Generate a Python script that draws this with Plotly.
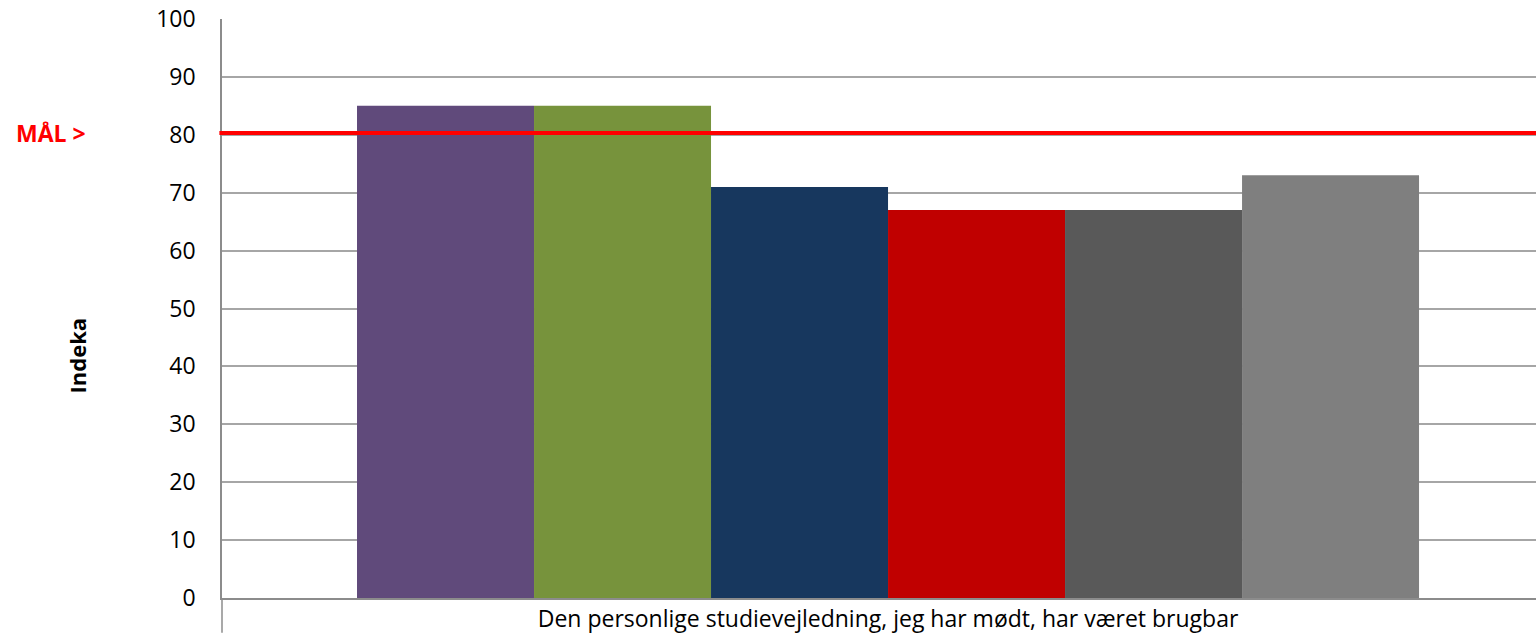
import plotly.graph_objects as go

category = ["Den personlige studievejledning, jeg har mødt, har været brugbar"]
series_names = ["Serie 1", "Serie 2", "Serie 3", "Serie 4", "Serie 5", "Serie 6"]
series_values = [85, 85, 71, 67, 67, 73]
series_colors = ["#604A7B", "#77933C", "#17375E", "#C00000", "#595959", "#7F7F7F"]
target_value = 80.3
target_label = "MÅL >"
y_title = "Indeka"
y_ticks = [0, 10, 20, 30, 40, 50, 60, 70, 80, 90, 100]

FONT = "Open Sans"

fig = go.Figure()
for name, val, col in zip(series_names, series_values, series_colors):
    fig.add_trace(go.Bar(
        x=category, y=[val], name=name,
        marker=dict(color=col, line=dict(width=0)),
        showlegend=False, hoverinfo="y+name",
    ))

fig.update_layout(
    width=1536, height=634,
    margin=dict(l=222, r=0, t=19, b=32, pad=0),
    paper_bgcolor="white", plot_bgcolor="white",
    barmode="group", bargap=0.2, bargroupgap=0,
    font=dict(family=FONT, color="black", size=22),
    xaxis=dict(
        type="category", range=[-0.5017, 0.4881],
        showline=True, linecolor="#8c8c8c", linewidth=1.5,
        showgrid=False, ticks="", zeroline=False,
        ticklabelstandoff=0,
        tickfont=dict(family=FONT, size=23, color="black"),
        fixedrange=True,
    ),
    yaxis=dict(
        range=[0, 100], tickvals=y_ticks,
        showline=True, linecolor="#8c8c8c", linewidth=1.5,
        showgrid=True, gridcolor="#a6a6a6", gridwidth=1.5,
        zeroline=False, ticks="",
        ticklabelstandoff=20,
        tickfont=dict(family=FONT, size=23, color="black"),
        fixedrange=True,
    ),
    shapes=[
        dict(type="line", xref="paper", yref="y", x0=-0.002, x1=1,
             y0=target_value, y1=target_value,
             line=dict(color="#FF0000", width=4), layer="above"),
        dict(type="line", xref="paper", yref="paper", x0=0, x1=0,
             y0=0, y1=-0.06, line=dict(color="#8c8c8c", width=1.5)),
    ],
    annotations=[
        dict(text="<b>" + target_label + "</b>", xref="paper", yref="y",
             x=-0.102, y=target_value, xanchor="right", yanchor="middle",
             showarrow=False, font=dict(family=FONT, size=23, color="#FF0000")),
        dict(text="<b>" + y_title + "</b>", xref="paper", yref="paper",
             x=-0.1103, y=0.419, xanchor="center", yanchor="middle",
             textangle=-90, showarrow=False,
             font=dict(family=FONT, size=22, color="black")),
    ],
)

fig.write_html(
    "out.html",
    config={"displayModeBar": False},
    post_script="document.body.style.margin='0';document.body.style.overflow='hidden';",
)
